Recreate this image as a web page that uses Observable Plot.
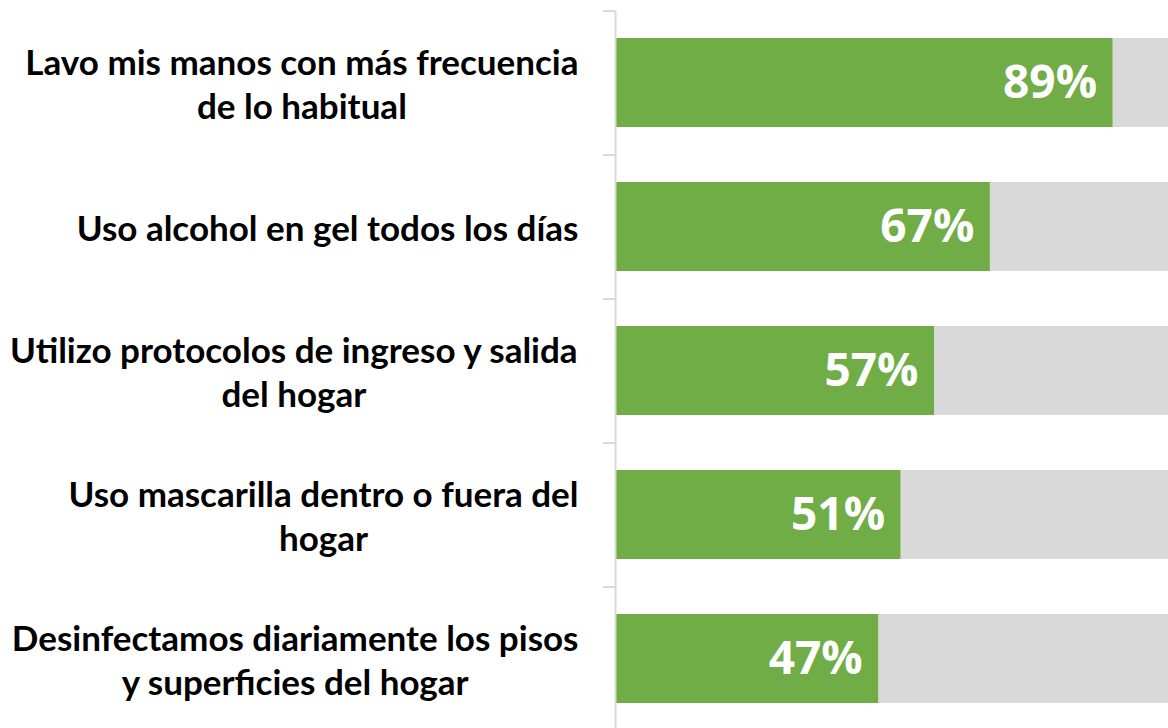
<!DOCTYPE html>
<html>
<head>
<meta charset="utf-8">
<script src="https://cdn.jsdelivr.net/npm/d3@7"></script>
<script src="https://cdn.jsdelivr.net/npm/@observablehq/plot@0.6"></script>
<style>
  html, body { margin: 0; padding: 0; background: #fff; overflow: hidden; }
  #chart svg { display: block; }
</style>
</head>
<body>
<div id="chart"></div>
<script>
const categories = [
  "Lavo mis manos con más frecuencia de lo habitual",
  "Uso alcohol en gel todos los días",
  "Utilizo protocolos de ingreso y salida del hogar",
  "Uso mascarilla dentro o fuera del hogar",
  "Desinfectamos diariamente los pisos y superficies del hogar"
];
const labelLines = [
  "Lavo mis manos con más frecuencia\nde lo habitual",
  "Uso alcohol en gel todos los días",
  "Utilizo protocolos de ingreso y salida\ndel hogar",
  "Uso mascarilla dentro o fuera del\nhogar",
  "Desinfectamos diariamente los pisos\ny superficies del hogar"
];
const values = [0.89, 0.67, 0.57, 0.51, 0.47];
const total = 1;

const data = categories.map((c, i) => ({category: c, label: labelLines[i], value: values[i]}));

const labelFont = "bold 35px Lato";
const ctx = document.createElement("canvas").getContext("2d");
ctx.font = labelFont;
const blockWidth = s => Math.max(...s.split("\n").map(l => ctx.measureText(l).width));

const labelMarks = data.map(d => Plot.text([d], {
  y: "category", x: 0, text: "label", textAnchor: "middle",
  dx: -(38 + blockWidth(d.label) / 2),
  fontFamily: "Lato, sans-serif", fontSize: 35, fontWeight: "bold", fill: "#000", lineHeight: 1.26
}));

const chart = Plot.plot({
  width: 1168,
  height: 728,
  marginLeft: 616,
  marginRight: 0,
  marginTop: 11,
  marginBottom: -3,
  style: {fontFamily: "Lato, sans-serif", background: "#fff"},
  x: {domain: [0, 552 / 558], axis: null},
  y: {domain: categories, paddingInner: 0.38, paddingOuter: 0.19, axis: null},
  marks: [
    Plot.barX(data, {y: "category", x1: "value", x2: total, fill: "#D9D9D9"}),
    Plot.barX(data, {y: "category", x1: 0, x2: "value", fill: "#70AD47"}),
    Plot.ruleX([0], {stroke: "#D9D9D9", strokeWidth: 2, dx: -1}),
    Plot.axisY({tickSize: 12, tickFormat: () => "", label: null, dy: -72, stroke: "#D9D9D9", strokeWidth: 2, dx: -1}),
    ...labelMarks,
    Plot.text(data, {
      y: "category", x: "value", text: d => Math.round(d.value * 100) + "%",
      textAnchor: "end", dx: -16, fontFamily: "'Open Sans', sans-serif", fontSize: 46, fontWeight: "bold", fill: "#fff"
    })
  ]
});
document.getElementById("chart").appendChild(chart);
</script>
</body>
</html>
